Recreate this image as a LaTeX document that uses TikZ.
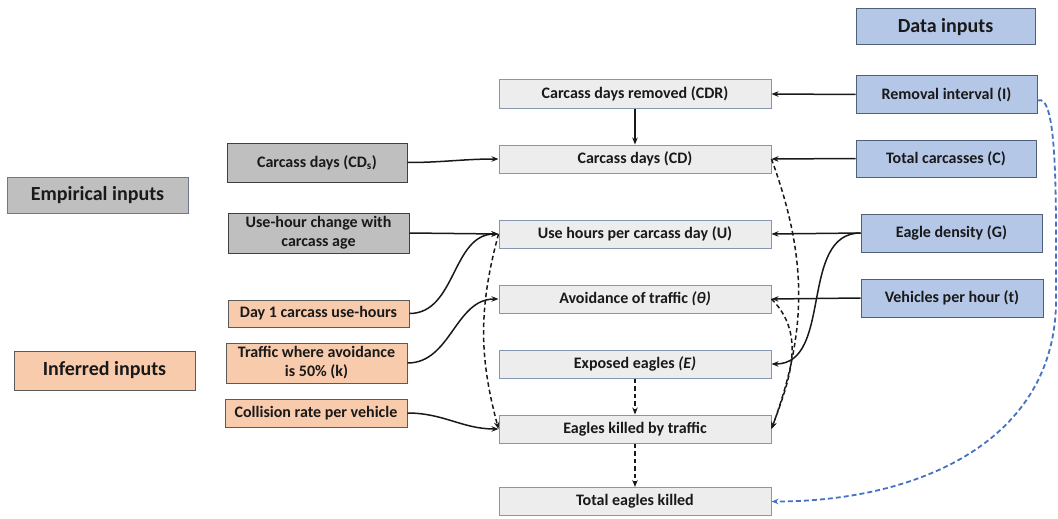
\documentclass[tikz,border=0pt]{standalone}
\usepackage{fontspec}
\setmainfont{Carlito}
\usetikzlibrary{arrows.meta}
\definecolor{midfill}{HTML}{EDEDED}
\definecolor{midline}{HTML}{8497B0}
\definecolor{datafill}{HTML}{B4C7E7}
\definecolor{dataline}{HTML}{4F5F78}
\definecolor{empfill}{HTML}{BFBFBF}
\definecolor{empline}{HTML}{404040}
\definecolor{inffill}{HTML}{F8CBAD}
\definecolor{infline}{HTML}{5A5A5A}
\definecolor{bluedash}{HTML}{4472C4}
\begin{document}
\begin{tikzpicture}[x=1pt,y=-1pt,
  base/.style={draw, line width=1pt, inner sep=0pt, align=center,
    font=\bfseries\fontsize{16}{19}\selectfont, text=black!90},
  midbox/.style={base, fill=midfill, draw=midline, minimum width=272pt, minimum height=28pt},
  databox/.style={base, fill=datafill, draw=dataline},
  empbox/.style={base, fill=empfill, draw=empline},
  infbox/.style={base, fill=inffill, draw=infline},
  bigtext/.style={font=\bfseries\fontsize{20}{24}\selectfont},
  conn/.style={line width=1.5pt, draw=black!90, -{Stealth[length=7pt,width=5.5pt]}},
  dconn/.style={conn, dash pattern=on 4.5pt off 3pt},
  bconn/.style={conn, line width=1.8pt, draw=bluedash, dash pattern=on 5pt off 3pt},
]
\useasboundingbox (0,0) rectangle (1058,519);

% central column
\node[midbox] (cdr) at (635,94) {Carcass days removed (CDR)};
\node[midbox] (cd)  at (635,159) {Carcass days (CD)};
\node[midbox] (u)   at (635,234) {Use hours per carcass day (U)};
\node[midbox] (av)  at (635,299) {Avoidance of traffic \textit{(θ)}};
\node[midbox] (ex)  at (635,364) {Exposed eagles \textit{(E)}};
\node[midbox] (ek)  at (635,429) {Eagles killed by traffic};
\node[midbox] (tot) at (635,501.5) {Total eagles killed};

% data inputs
\node[databox, bigtext, minimum width=179pt, minimum height=36pt] (data) at (945.5,27) {Data inputs};
\node[databox, minimum width=181pt, minimum height=37pt] (rem)  at (946.5,94.5) {Removal interval (I)};
\node[databox, minimum width=180pt, minimum height=37pt] (totc) at (946,158.5) {Total carcasses (C)};
\node[databox, minimum width=181pt, minimum height=38pt] (eg)   at (951.5,233) {Eagle density (G)};
\node[databox, minimum width=182pt, minimum height=38pt] (veh)  at (952,298) {Vehicles per hour (t)};

% empirical inputs
\node[empbox, bigtext, draw=midline!80!black, minimum width=181pt, minimum height=36pt] (emp) at (97.5,195) {Empirical inputs};
\node[empbox, minimum width=180pt, minimum height=39pt] (cds) at (317,162.5) {Carcass days (CD\textsubscript{s})};
\node[empbox, minimum width=181pt, minimum height=40pt] (uhc) at (318.5,233) {Use-hour change with\\carcass age};

% inferred inputs
\node[infbox, bigtext, minimum width=181pt, minimum height=39pt] (inf) at (104.5,370.5) {Inferred inputs};
\node[infbox, minimum width=181pt, minimum height=27pt] (day1) at (318.5,313.5) {Day 1 carcass use-hours};
\node[infbox, minimum width=181pt, minimum height=40pt] (traf) at (316.5,363) {Traffic where avoidance\\is 50\% (k)};
\node[infbox, minimum width=182pt, minimum height=28pt] (coll) at (316,413) {Collision rate per vehicle};

% solid connectors
\draw[conn] (rem.west) -- (cdr.east);
\draw[conn] (cdr.south) -- (cd.north);
\draw[conn] (cds.east) to[out=0,in=180] (cd.west);
\draw[conn] (totc.west) -- (cd.east);
\draw[conn] (uhc.east) -- (u.west);
\draw[conn] (day1.east) to[out=0,in=180] (u.west);
\draw[conn] (eg.west) -- (u.east);
\draw[conn] (eg.west) to[out=180,in=0] (ex.east);
\draw[conn] (veh.west) -- (av.east);
\draw[conn] (traf.east) to[out=0,in=180] (av.west);
\draw[conn] (coll.east) to[out=0,in=180] (ek.west);

% dashed connectors
\draw[dconn] (cd.east) to[out=-70,in=70] (ek.east);
\draw[dconn] (av.east) to[out=-45,in=70] (ek.east);
\draw[dconn] (u.west) to[out=-105,in=105] (ek.west);
\draw[dconn] (ex.south) -- (ek.north);
\draw[dconn] (ek.south) -- (tot.north);

% blue dashed
\coordinate (bturn) at (1056,300);
\draw[bconn] ([yshift=-6pt]rem.east) .. controls (1058,92) and (1056,200) .. (bturn)
  .. controls (1056,440) and (920,501.5) .. (tot.east);
\end{tikzpicture}
\end{document}
